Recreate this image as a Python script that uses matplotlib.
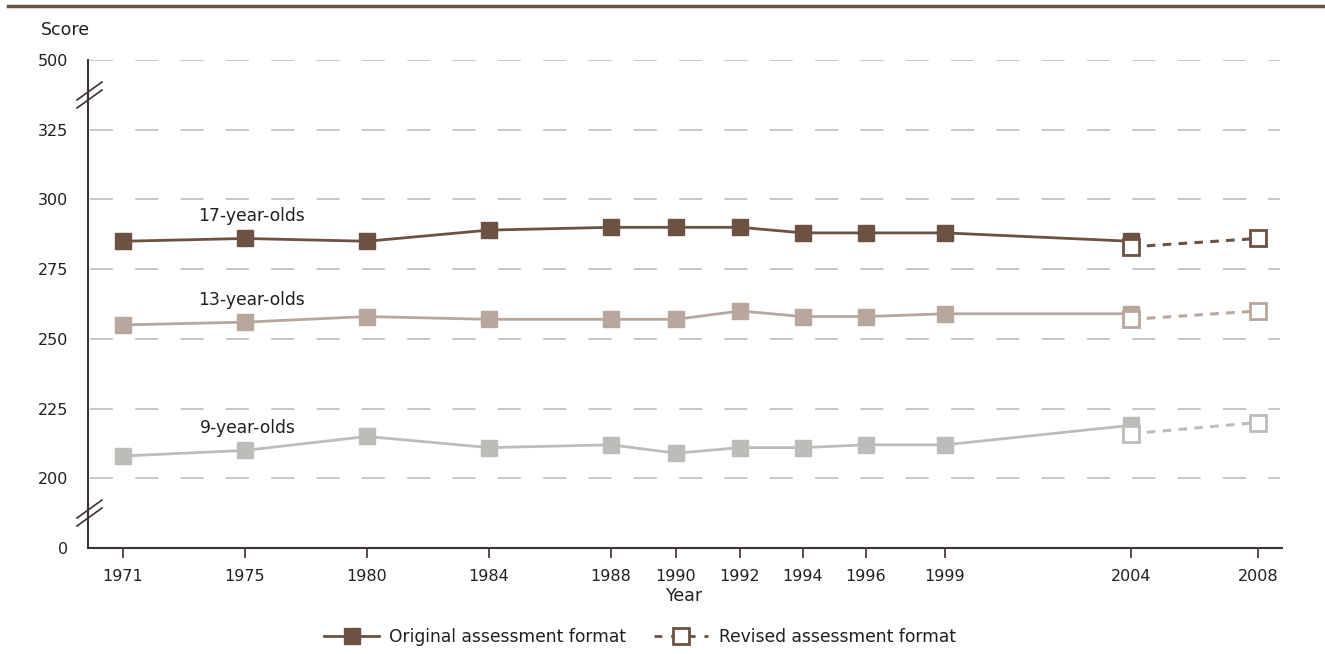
import numpy as np
import matplotlib.pyplot as plt
from matplotlib.lines import Line2D

plt.rcParams['font.family'] = ['DejaVu Sans']

# Données
annees = ['1971', '1975', '1980', '1984', '1988', '1990', '1992', '1994', '1996', '1999', '2004', '2008']
orig_annees = annees[:11]
rev_annees = ['2004', '2008']

s17 = [285, 286, 285, 289, 290, 290, 290, 288, 288, 288, 285]
s13 = [255, 256, 258, 257, 257, 257, 260, 258, 258, 259, 259]
s9 = [208, 210, 215, 211, 212, 209, 211, 211, 212, 212, 219]
s17_rev = [283, 286]
s13_rev = [257, 260]
s9_rev = [216, 220]

y_ticks = [0, 200, 225, 250, 275, 300, 325, 500]

# Position des années sur l'axe horizontal (mise en page, espacement irrégulier)
x_pos = dict(zip(annees, [123, 245, 367, 489, 611, 676, 740, 803, 866, 945, 1131, 1258]))

c17 = '#6b5243'
c13 = '#b8a79d'
c9 = '#bebcb8'
grille = '#c2c2c2'
texte = '#231f20'


# Echelle coupée : 0-200 et 325-500 ramenés à un seul pas
def fwd(v):
    v = np.asarray(v, dtype=float)
    return np.where(v < 200, 175 + v / 200 * 25, np.where(v > 325, 325 + (v - 325) / 175 * 25, v))


def inv(u):
    u = np.asarray(u, dtype=float)
    return np.where(u < 200, (u - 175) * 200 / 25, np.where(u > 325, 325 + (u - 325) * 175 / 25, u))


f = plt.figure(figsize=(13.25, 6.54), dpi=100)
ax = f.add_axes([88 / 1325, 1 - 548 / 654, (1282 - 88) / 1325, (548 - 60) / 654])
ax.set_yscale('function', functions=(fwd, inv))
ax.set_ylim(0, 500)
ax.set_xlim(88, 1282)

for t in y_ticks[1:]:
    ax.plot([90, 1280], [t, t], color=grille, linewidth=1.3, linestyle=(0, (12.7, 12.4)), zorder=1)

series = [(s17, s17_rev, c17), (s13, s13_rev, c13), (s9, s9_rev, c9)]
for orig, rev, c in series:
    xo = [x_pos[a] for a in orig_annees]
    xr = [x_pos[a] for a in rev_annees]
    ax.plot(xr, rev, color=c, linewidth=2.2, linestyle=(0, (2.8, 2.4)), zorder=2)
    ax.plot(xo, orig, color=c, linewidth=2, marker='s', markersize=11.5, zorder=3)
    ax.plot(xr, rev, color=c, linewidth=0, marker='s', markersize=11,
            markerfacecolor='white', markeredgewidth=2, zorder=4)

ax.text(198, 292.3, '17-year-olds', fontsize=12.3, color=texte)
ax.text(198, 262, '13-year-olds', fontsize=12.3, color=texte)
ax.text(200, 216.3, '9-year-olds', fontsize=12.3, color=texte)

ax.set_yticks(y_ticks)
ax.set_yticklabels([str(t) for t in y_ticks])
ax.set_xticks([x_pos[a] for a in annees])
ax.set_xticklabels(annees)
ax.tick_params(axis='y', length=0, pad=14, labelsize=11.5, labelcolor=texte)
ax.tick_params(axis='x', length=7, width=1.2, color='#3a3330', pad=8, labelsize=11.5, labelcolor=texte)
ax.minorticks_off()

for s in ['top', 'right']:
    ax.spines[s].set_visible(False)
for s in ['left', 'bottom']:
    ax.spines[s].set_color('#3a3330')
    ax.spines[s].set_linewidth(1.5)

ax.set_xlabel('Year', fontsize=12.5, color=texte, labelpad=2)
f.text(41 / 1325, 1 - 30 / 654, 'Score', fontsize=12.5, color=texte, va='center')

# Marques de coupure de l'axe
for yb in [95, 513]:
    yf = 1 - yb / 654
    for dy in [-4, 4]:
        f.add_artist(Line2D([(77) / 1325, (102) / 1325],
                            [yf + (dy - 9) / 654, yf + (dy + 9) / 654],
                            color='#3a3330', linewidth=1.2))

# Trait en haut
f.add_artist(Line2D([8 / 1325, 1], [1 - 6 / 654, 1 - 6 / 654], color=c17, linewidth=2.5))

# Légende
h1 = Line2D([], [], color=c17, linewidth=2, marker='s', markersize=12)
h2 = Line2D([], [], color=c17, linewidth=2, linestyle=(0, (2.8, 3.2)), marker='s', markersize=12,
            markerfacecolor='white', markeredgewidth=2)
f.legend([h1, h2], ['Original assessment format', 'Revised assessment format'],
         loc='center', bbox_to_anchor=(640 / 1325, 1 - 637 / 654), ncol=2, frameon=False,
         fontsize=12.3, handlelength=3.2, handletextpad=0.6, columnspacing=1.6, labelcolor=texte)

f.savefig('out.png', dpi=100)
